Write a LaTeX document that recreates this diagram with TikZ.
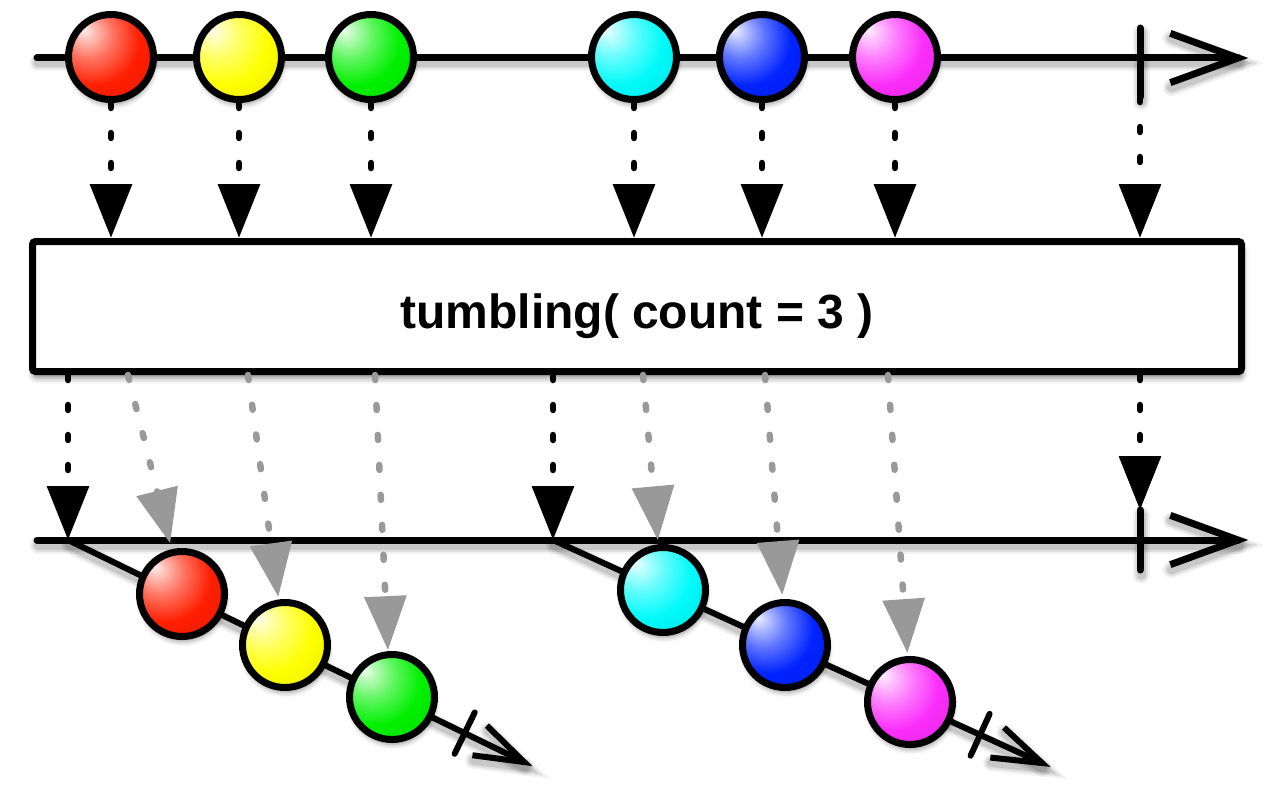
\documentclass[tikz,border=0pt]{standalone}
\usepackage{fontspec}
\newfontfamily\labfont{Liberation Sans}
\usetikzlibrary{arrows.meta,calc,shadows.blur}
\definecolor{cRed}{RGB}{255,30,0}
\definecolor{cYellow}{RGB}{255,255,0}
\definecolor{cGreen}{RGB}{0,240,0}
\definecolor{cCyan}{RGB}{0,250,250}
\definecolor{cBlue}{RGB}{0,35,255}
\definecolor{cMagenta}{RGB}{250,45,250}
\definecolor{arrgray}{RGB}{153,153,153}
\colorlet{ballc}{red}
\pgfdeclareradialshading[ballc]{sball}{\pgfpoint{-16bp}{16bp}}{%
 color(0bp)=(ballc!8!white); color(5bp)=(ballc!28!white); color(14bp)=(ballc!62!white);
 color(27bp)=(ballc); color(45bp)=(ballc!90!black); color(60bp)=(ballc!68!black); color(74bp)=(ballc!52!black)}
\newcommand\shadowit[1]{%
 \begin{scope}[transform canvas={xshift=1pt,yshift=-5pt}]
 \draw[line width=17pt, black, opacity=.05, line cap=round] #1;
 \draw[line width=13pt, black, opacity=.08, line cap=round] #1;
 \draw[line width=9pt, black, opacity=.10, line cap=round] #1;
 \end{scope}}
\begin{document}
\begin{tikzpicture}[x=1pt,y=-1pt,
 tl/.style={line width=7pt, line cap=round, black},
 dl/.style={line width=6pt, line cap=round, black},
 headln/.style={line width=7pt, line cap=butt, line join=miter, black},
 ballst/.style={circle, draw=black, line width=7pt, minimum size=85pt, inner sep=0pt,
   /utils/exec={\colorlet{ballc}{#1}}, shade, shading=sball,
   blur shadow={shadow xshift=1pt, shadow yshift=-5pt, shadow blur radius=5pt, shadow opacity=40}},
 dotarrow/.style={line width=6.5pt, line cap=round, dash pattern=on 5pt off 25pt,
   -{Triangle[width=41pt,length=54pt]}},
 blackarrow/.style={dotarrow, black},
 grayarrow/.style={dotarrow, arrgray}]
\useasboundingbox (0,0) rectangle (1280,800);
% coordinates
\coordinate (tS) at (37,58);
\coordinate (tE) at (1238,58);
\coordinate (tk1a) at (1140,28);
\coordinate (tk1b) at (1140,97);
\coordinate (bS) at (37,540);
\coordinate (bE) at (1238,540);
\coordinate (tk2a) at (1140,510);
\coordinate (tk2b) at (1140,570);
\coordinate (s1) at (68,540);
\coordinate (e1) at (524,762);
\coordinate (s2) at (553,540);
\coordinate (e2) at (1042,763);
\coordinate (d1) at ($(e1)!66pt!(s1)$);
\coordinate (d2) at ($(e2)!68pt!(s2)$);
% line shadows
\shadowit{(tS) -- (tE)}
\shadowit{(tk1a) -- (tk1b)}
\shadowit{($(tE)!72pt!20:(tS)$) -- (tE) -- ($(tE)!72pt!-20:(tS)$)}
\shadowit{(bS) -- (bE)}
\shadowit{(tk2a) -- (tk2b)}
\shadowit{($(bE)!72pt!20:(bS)$) -- (bE) -- ($(bE)!72pt!-20:(bS)$)}
\shadowit{(s1) -- (e1)}
\shadowit{(s2) -- (e2)}
\shadowit{($(e1)!52pt!18.5:(s1)$) -- (e1) -- ($(e1)!52pt!-18.5:(s1)$)}
\shadowit{($(e2)!52pt!18.5:(s2)$) -- (e2) -- ($(e2)!52pt!-18.5:(s2)$)}
% top timeline
\draw[tl] (tS) -- (tE);
\draw[tl] (tk1a) -- (tk1b);
\draw[headln] ($(tE)!72pt!20:(tS)$) -- (tE) -- ($(tE)!72pt!-20:(tS)$);
% top balls
\node[ballst=cRed] (t1) at (111,57) {};
\node[ballst=cYellow] (t2) at (239,57) {};
\node[ballst=cGreen] (t3) at (371,57) {};
\node[ballst=cCyan] (t4) at (634,57) {};
\node[ballst=cBlue] (t5) at (762,57) {};
\node[ballst=cMagenta] (t6) at (895,57) {};
% operator box
\node[draw=black, fill=white, line width=7pt, rounded corners=3pt, minimum width=1209pt, minimum height=130pt,
  blur shadow={shadow xshift=1pt, shadow yshift=-6pt, shadow blur radius=6pt, shadow opacity=50}] (box) at (637,306.5) {};
\node[font=\labfont\bfseries\fontsize{48}{56}\selectfont, anchor=base, inner sep=0pt] (lbl) at ($(box.center)+(0,21.5)$) {tumbling( count = 3 )};
% top dotted arrows
\foreach \n in {t1,t2,t3,t4,t5,t6}{
  \draw[blackarrow] (\n.south) -- (\n.south |- box.north);
}
\draw[blackarrow] (tk1b) -- (tk1b |- box.north);
% bottom timeline
\draw[tl] (bS) -- (bE);
\draw[tl] (tk2a) -- (tk2b);
\draw[headln] ($(bE)!72pt!20:(bS)$) -- (bE) -- ($(bE)!72pt!-20:(bS)$);
% window lines
\draw[dl] (s1) -- (e1);
\draw[dl] (s2) -- (e2);
\draw[dl] ($(d1)!23pt!90:(e1)$) -- ($(d1)!23pt!-90:(e1)$);
\draw[dl] ($(d2)!23pt!90:(e2)$) -- ($(d2)!23pt!-90:(e2)$);
\draw[headln, line width=6pt] ($(e1)!52pt!18.5:(s1)$) -- (e1) -- ($(e1)!52pt!-18.5:(s1)$);
\draw[headln, line width=6pt] ($(e2)!52pt!18.5:(s2)$) -- (e2) -- ($(e2)!52pt!-18.5:(s2)$);
% bottom balls
\node[ballst=cRed] (b1) at (182,594) {};
\node[ballst=cYellow] (b2) at (285,645) {};
\node[ballst=cGreen] (b3) at (392,697) {};
\node[ballst=cCyan] (b4) at (663,590) {};
\node[ballst=cBlue] (b5) at (785,645) {};
\node[ballst=cMagenta] (b6) at (910,702) {};
% bottom black arrows
\draw[blackarrow] (box.south -| s1) -- (s1);
\draw[blackarrow] (box.south -| s2) -- (s2);
\draw[blackarrow] (box.south -| tk2a) -- (tk2a);
% gray arrows
\coordinate (g1) at (128,375);
\coordinate (g2) at (248,375);
\coordinate (g3) at (375,375);
\coordinate (g4) at (643,375);
\coordinate (g5) at (765,375);
\coordinate (g6) at (888,375);
\draw[grayarrow, shorten >=6pt] (g1) -- (b1.103);
\draw[grayarrow, shorten >=2.5pt] (g2) -- (b2.98);
\draw[grayarrow, shorten >=1pt] (g3) -- (b3.95);
\draw[grayarrow, shorten >=4pt] (g4) -- (b4.96);
\draw[grayarrow, shorten >=4pt] (g5) -- (b5.93);
\draw[grayarrow, shorten >=3pt] (g6) -- (b6.93);
\end{tikzpicture}
\end{document}
